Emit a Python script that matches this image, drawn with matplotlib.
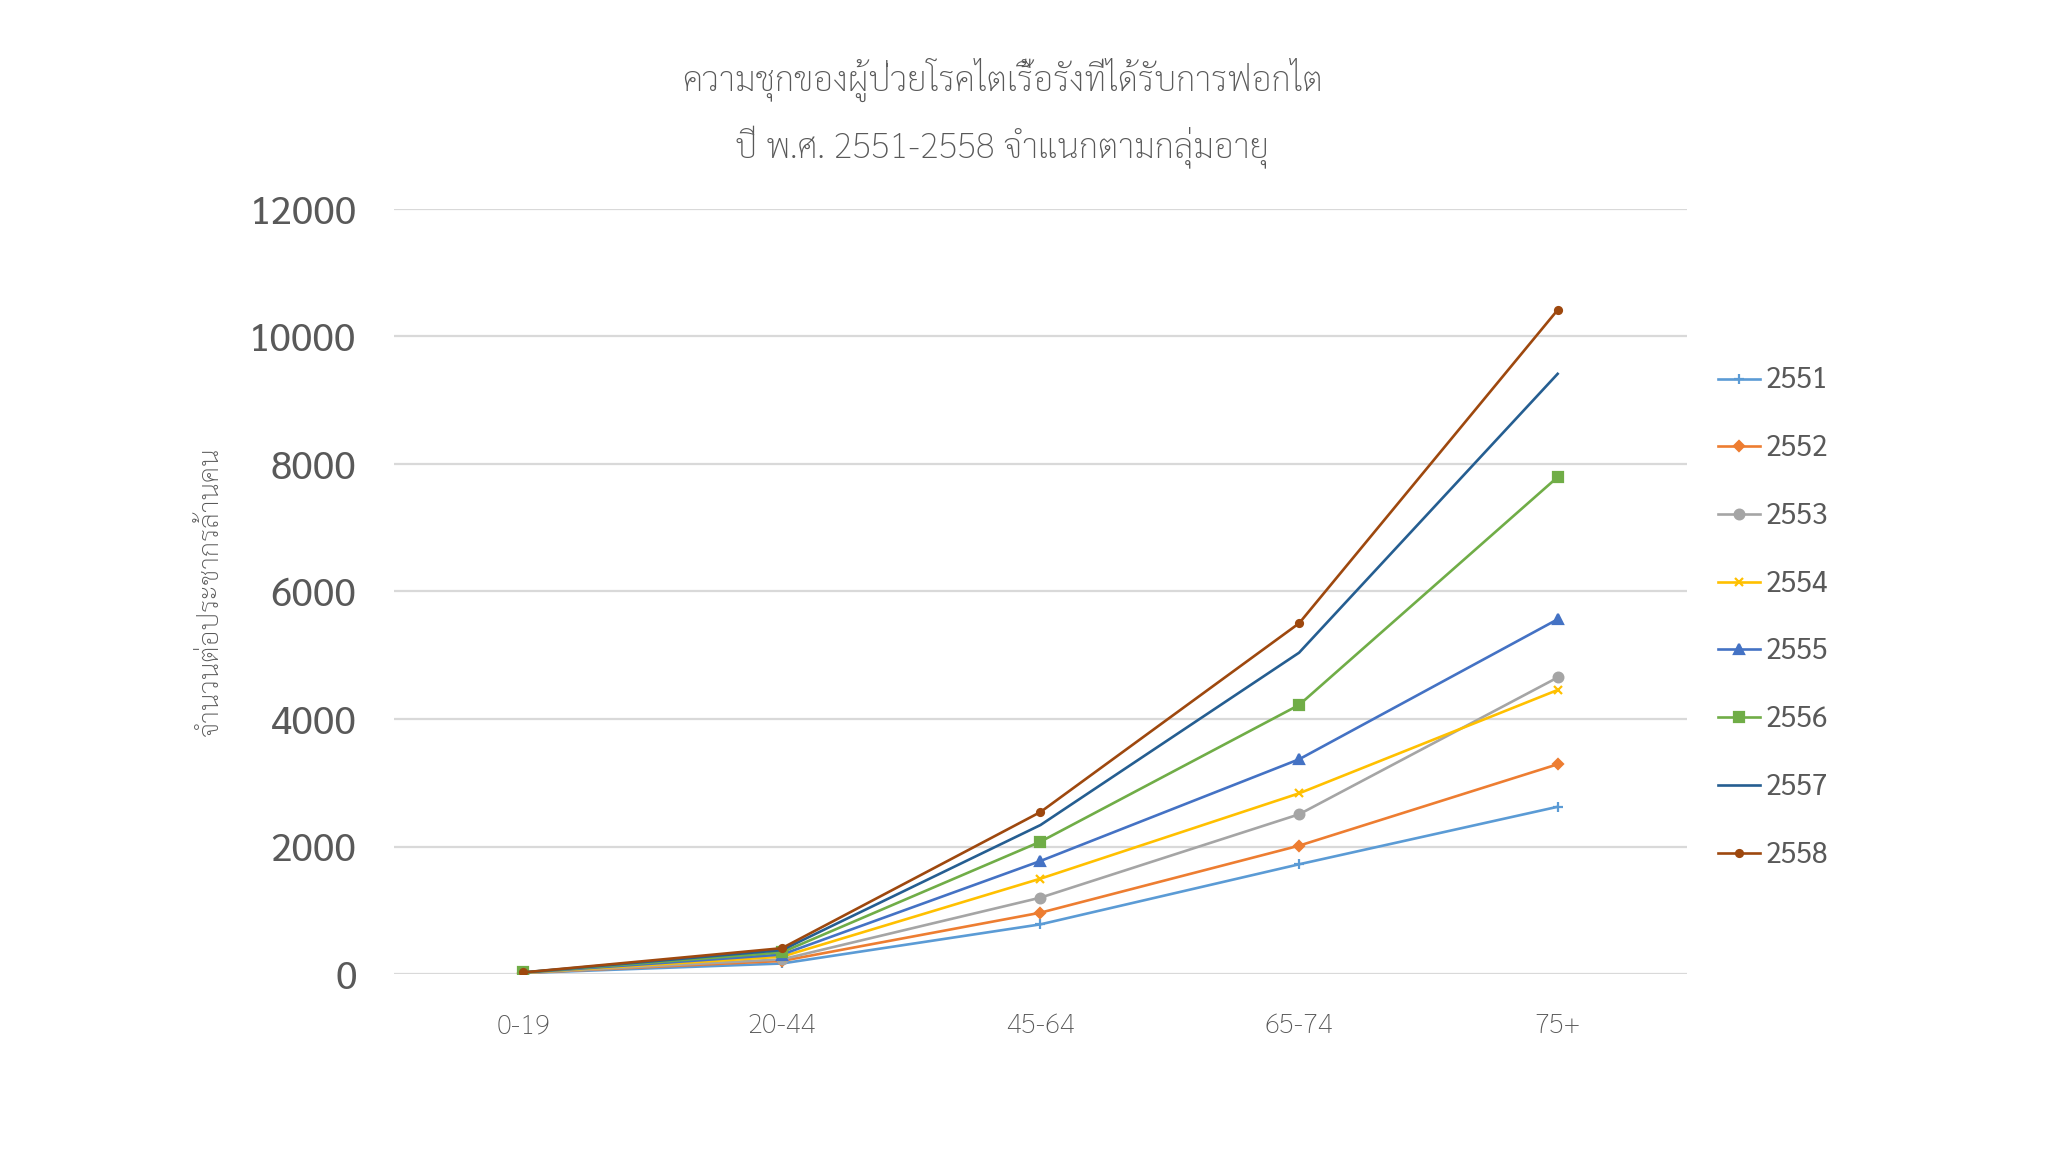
import matplotlib
matplotlib.use("Agg")
import matplotlib.pyplot as plt

# age groups and prevalence per million population, by Thai year
age_groups = ["0-19", "20-44", "45-64", "65-74", "75+"]
years = ["2551", "2552", "2553", "2554", "2555", "2556", "2557", "2558"]
v2551 = [15, 165, 779, 1721, 2623]
v2552 = [18, 205, 962, 2013, 3290]
v2553 = [18, 230, 1198, 2505, 4651]
v2554 = [20, 272, 1496, 2834, 4455]
v2555 = [22, 305, 1773, 3368, 5564]
v2556 = [25, 340, 2076, 4220, 7795]
v2557 = [25, 375, 2337, 5040, 9414]
v2558 = [25, 405, 2541, 5501, 10416]
series = [v2551, v2552, v2553, v2554, v2555, v2556, v2557, v2558]

colors = ["#5B9BD5", "#ED7D31", "#A5A5A5", "#FFC000",
          "#4472C4", "#70AD47", "#255E91", "#9E480E"]
markers = ["+", "D", "o", "x", "^", "s", None, "o"]
msizes = [7, 5, 7, 6, 7, 7, 0, 5]

font = ["Sarabun", "DejaVu Sans"]
txt = "#595959"

fig = plt.figure(figsize=(20.48, 11.52), dpi=100)
ax = fig.add_axes([0.1924, 0.1545, 0.6313, 0.6641])

x = list(range(len(age_groups)))
for k, vals in enumerate(series):
    ax.plot(x, vals, color=colors[k], lw=1.9, marker=markers[k],
            ms=msizes[k], mew=1.6, label=years[k])

ax.set_xlim(-0.5, len(age_groups) - 0.5)
ax.set_ylim(0, 12000)
ax.set_yticks(range(0, 12001, 2000))
ax.set_xticks(x)
ax.set_xticklabels(age_groups)
ax.grid(axis="y", color="#d9d9d9", lw=1.6)
ax.set_axisbelow(True)
for s in ax.spines.values():
    s.set_visible(False)
ax.tick_params(length=0)
ax.tick_params(axis="y", pad=27, labelsize=28, labelcolor=txt)
ax.tick_params(axis="x", pad=28, labelsize=20, labelcolor=txt)
for lab in ax.get_yticklabels():
    lab.set_family(font)
for lab in ax.get_xticklabels():
    lab.set_family(font)
    lab.set_weight("light")

ax.set_ylabel("จำนวนต่อประชากรล้านคน", family=font, fontsize=20,
              color=txt, labelpad=18, weight="light")

fig.text(0.4893, 0.931, "ความชุกของผู้ป่วยโรคไตเรื้อรังที่ได้รับการฟอกไต",
         ha="center", va="center", family=font, fontsize=25, color=txt,
         weight="light")
fig.text(0.4893, 0.8716, "ปี พ.ศ. 2551-2558 จำแนกตามกลุ่มอายุ",
         ha="center", va="center", family=font, fontsize=25, color=txt,
         weight="light")

leg = ax.legend(loc="upper left", bbox_to_anchor=(1.015, 0.809), frameon=False,
                prop={"family": font, "size": 20.5},
                labelcolor=txt, handlelength=1.5, handletextpad=0.2,
                labelspacing=1.36, borderaxespad=0)

fig.savefig("out.png", dpi=100, facecolor="white")
